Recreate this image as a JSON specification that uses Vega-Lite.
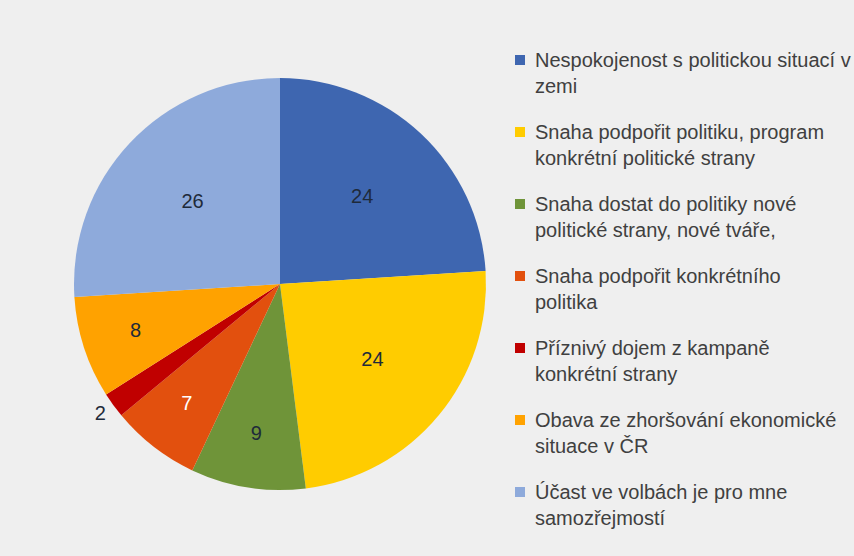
{
  "$schema": "https://vega.github.io/schema/vega-lite/v6.json",
  "width": 560,
  "height": 544,
  "autosize": {"type": "none"},
  "padding": {"left": 0, "top": 12, "right": 294, "bottom": 0},
  "background": "#efefef",
  "config": {"view": {"stroke": null}},
  "data": {
    "values": [
      {"order": 1, "category": "Nespokojenost s politickou situací v|zemi", "value": 24},
      {"order": 2, "category": "Snaha podpořit politiku, program|konkrétní politické strany", "value": 24},
      {"order": 3, "category": "Snaha dostat do politiky nové|politické strany, nové tváře,", "value": 9},
      {"order": 4, "category": "Snaha podpořit konkrétního|politika", "value": 7},
      {"order": 5, "category": "Příznivý dojem z kampaně|konkrétní strany", "value": 2},
      {"order": 6, "category": "Obava ze zhoršování ekonomické|situace v ČR", "value": 8},
      {"order": 7, "category": "Účast ve volbách je pro mne|samozřejmostí", "value": 26}
    ]
  },
  "encoding": {
    "theta": {"field": "value", "type": "quantitative", "stack": true},
    "order": {"field": "order", "type": "quantitative"}
  },
  "layer": [
    {
      "mark": {"type": "arc", "outerRadius": 206},
      "encoding": {
        "color": {
          "field": "category",
          "type": "nominal",
          "scale": {
            "domain": [
              "Nespokojenost s politickou situací v|zemi",
              "Snaha podpořit politiku, program|konkrétní politické strany",
              "Snaha dostat do politiky nové|politické strany, nové tváře,",
              "Snaha podpořit konkrétního|politika",
              "Příznivý dojem z kampaně|konkrétní strany",
              "Obava ze zhoršování ekonomické|situace v ČR",
              "Účast ve volbách je pro mne|samozřejmostí"
            ],
            "range": ["#3e66b0", "#ffcc00", "#6f9439", "#e2500e", "#c00000", "#ffa200", "#8eaadb"]
          },
          "legend": {
            "orient": "none",
            "legendX": 510,
            "legendY": 38,
            "title": null,
            "symbolType": "square",
            "symbolSize": 100,
            "symbolStrokeWidth": 0,
            "labelFont": "Liberation Sans",
            "labelFontSize": 20,
            "labelColor": "#404040",
            "labelLimit": 400,
            "labelOffset": 5,
            "labelBaseline": "top",
            "rowPadding": 25,
            "labelExpr": "split(datum.label, '|')",
            "symbolOffset": 0,
            "encode": {
              "labels": {"update": {"lineHeight": {"value": 26}, "dy": {"value": -9}}}
            }
          }
        }
      }
    },
    {
      "mark": {"type": "text", "font": "Liberation Sans", "fontSize": 20, "radius": 120},
      "encoding": {
        "text": {
          "condition": {"test": "datum.value < 20", "value": ""},
          "field": "value", "type": "quantitative"
        },
        "color": {"value": "#1e2a3a"}
      }
    },
    {
      "mark": {"type": "text", "font": "Liberation Sans", "fontSize": 20, "radius": 152},
      "encoding": {
        "text": {
          "condition": {"test": "datum.value >= 20 || datum.value < 5", "value": ""},
          "field": "value", "type": "quantitative"
        },
        "color": {
          "condition": {"test": "datum.value == 7", "value": "#ffffff"},
          "value": "#1e2a3a"
        }
      }
    },
    {
      "mark": {"type": "text", "font": "Liberation Sans", "fontSize": 20, "radius": 222},
      "encoding": {
        "text": {
          "condition": {"test": "datum.value >= 5", "value": ""},
          "field": "value", "type": "quantitative"
        },
        "color": {"value": "#1e2a3a"}
      }
    }
  ]
}
